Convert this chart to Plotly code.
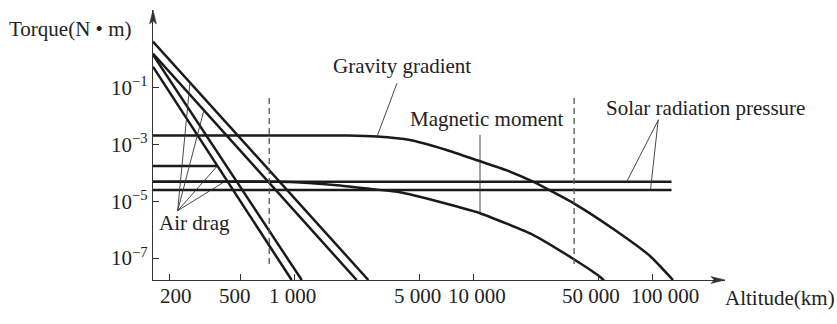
import numpy as np
import plotly.graph_objects as go

# ---------------- data (altitude km, torque N*m) ----------------
# Air drag: four straight lines on log-log axes (start, end)
drag1_alt = [161, 2580]
drag1_tq = [4.2, 1.69e-8]
drag2_alt = [161, 2220]
drag2_tq = [1.6, 1.69e-8]
drag3_alt = [161, 1094]
drag3_tq = [1.45, 1.69e-8]
drag4_alt = [161, 961]
drag4_tq = [0.55, 1.69e-8]
drag_flat_alt = [161, 367]
drag_flat_tq = [1.75e-4, 1.75e-4]

# Gravity gradient
grav_alt = [161, 1960, 2884, 4411, 6922, 10590, 15380, 21500, 36940, 63420, 97000, 130500]
grav_tq = [2.07e-3, 2.07e-3, 1.91e-3, 1.44e-3, 6.67e-4, 2.73e-4, 1.22e-4, 4.9e-5,
           8.0e-6, 8.65e-7, 1.19e-7, 1.69e-8]

# Magnetic moment
mag_alt = [161, 941, 1791, 2750, 3878, 6493, 10866, 21590, 36940, 50950, 56700]
mag_tq = [4.9e-5, 4.8e-5, 3.6e-5, 2.65e-5, 2.07e-5, 9.4e-6, 3.8e-6, 6.5e-7, 8.6e-8, 2.2e-8, 1.13e-8]

# Solar radiation pressure (two levels)
solar_alt = [161, 128000]
solar_hi = [4.9e-5, 4.9e-5]
solar_lo = [2.5e-5, 2.5e-5]

# Reference altitudes (dashed)
ref_alt = [720, 36500]
ref_tq = [0.0434, 4.9e-8]

# Tick labels
x_ticks = [200, 500, 1000, 5000, 10000, 50000, 100000]
x_ticktext = ["200", "500", "1 000", "5 000", "10 000", "50 000", "100 000"]
y_ticks = [1e-1, 1e-3, 1e-5, 1e-7]
y_ticktext = ["10<sup>\u22121</sup>", "10<sup>\u22123</sup>", "10<sup>\u22125</sup>", "10<sup>\u22127</sup>"]

# ---------------- figure ----------------
FONT = "Liberation Serif"
LC = "#1a1a1a"
LW = 2.5
TXT = "#222222"

fig = go.Figure()

def add_line(xs, ys, width=LW, color=LC, dash=None, spline=False):
    line = dict(color=color, width=width, dash=dash)
    if spline:
        line.update(shape="spline", smoothing=0.5)
    fig.add_trace(go.Scatter(x=xs, y=ys, mode="lines", line=line,
                             hoverinfo="skip", showlegend=False))

for xs, ys in [(drag1_alt, drag1_tq), (drag2_alt, drag2_tq), (drag3_alt, drag3_tq),
               (drag4_alt, drag4_tq), (drag_flat_alt, drag_flat_tq),
               (solar_alt, solar_hi), (solar_alt, solar_lo)]:
    add_line(xs, ys)

add_line(grav_alt, grav_tq, spline=True)
add_line(mag_alt, mag_tq, spline=True)

for a in ref_alt:
    add_line([a, a], ref_tq, width=1.3, color="#555555", dash="6px,4px")

# pointer leaders: anchored at a data point, other end offset in pixels (right/up)
def leader(alt, tq, dx, dy_up):
    fig.add_shape(type="line", xref="x", yref="y",
                  xsizemode="pixel", ysizemode="pixel",
                  xanchor=alt, yanchor=tq,
                  x0=0, y0=0, x1=dx, y1=dy_up,
                  line=dict(color="#333333", width=0.9))

# Air drag: from label apex up to the curves
apex_alt, apex_tq = 221.4, 4.67e-6
for dx, up in [(12.3, 128), (26.3, 100.6), (39, 44), (45.6, 28.2)]:
    leader(apex_alt, apex_tq, dx, up)
# Gravity gradient, magnetic moment, solar radiation pressure
leader(2884, 1.9e-3, 20, 53.4)
leader(10866, 3.8e-6, 0, 78.3)
leader(71880, 4.9e-5, 31.6, 61.7)
leader(97600, 2.5e-5, 7.8, 70.5)

def label(text, x, y, xanchor="center"):
    fig.add_annotation(x=x, y=y, xref="paper", yref="paper", text=text,
                       showarrow=False, xanchor=xanchor, yanchor="middle",
                       font=dict(family=FONT, size=21, color=TXT))

label("Torque(N \u2022 m)", -0.1451, 0.9278)
label("Altitude(km)", 1.0962, -0.0685)
label("Gravity gradient", 0.4348, 0.7926)
label("Magnetic moment", 0.5831, 0.5963)
label("Solar radiation pressure", 0.9665, 0.6352)
label("Air drag", 0.0734, 0.2093)

# x tick labels (placed on the axis scale, nudged apart like the original)
x_label_shift = [6, -6, -2, -2, 3, -7.5, 12.5]
for v, t, s in zip(x_ticks, x_ticktext, x_label_shift):
    fig.add_annotation(x=np.log10(v), y=-0.0595, xref="x", yref="paper", text=t,
                       showarrow=False, xanchor="center", yanchor="middle", xshift=s,
                       font=dict(family=FONT, size=21, color=TXT))

# axis arrowheads (paper-space decorations)
fig.add_shape(type="path", xref="paper", yref="paper",
              path="M 1,0 L 0.9755,0.0130 L 0.9810,0 L 0.9755,-0.0130 Z",
              fillcolor="#333333", line=dict(color="#333333", width=0.5))
fig.add_shape(type="path", xref="paper", yref="paper",
              path="M 0,1 L -0.0061,0.9481 L 0,0.9593 L 0.0061,0.9481 Z",
              fillcolor="#333333", line=dict(color="#333333", width=0.5))

axis_common = dict(type="log", tickmode="array", ticks="inside", ticklen=6,
                   tickwidth=1, tickcolor="#333333", showline=True, linecolor="#333333",
                   linewidth=1.3, showgrid=False, zeroline=False, automargin=False,
                   tickfont=dict(family=FONT, size=21, color=TXT))
fig.update_xaxes(range=[2.2072, 5.4063], tickvals=x_ticks,
                 showticklabels=False, **axis_common)
fig.update_yaxes(range=[-7.771, 1.736], tickvals=y_ticks, ticktext=y_ticktext,
                 **axis_common)

fig.update_layout(width=837, height=324, margin=dict(l=153, r=112, t=10, b=44),
                  paper_bgcolor="white", plot_bgcolor="white", showlegend=False)

fig.write_html("out.html")
